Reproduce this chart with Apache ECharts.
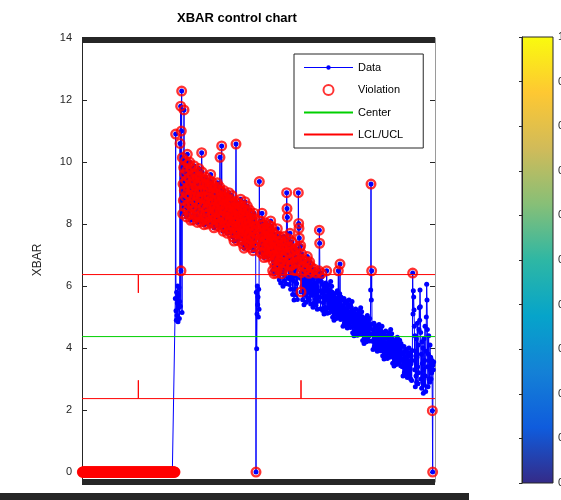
<!DOCTYPE html>
<html>
<head>
<meta charset="utf-8">
<script src="https://cdn.jsdelivr.net/npm/echarts@6/dist/echarts.min.js"></script>
<style>
  html, body { margin: 0; padding: 0; background: #ffffff; }
  #chart { width: 561px; height: 500px; }
</style>
</head>
<body>
<div id="chart"></div>
<script>
// Subgroup means (XBAR), in sample order.
// Start-up run: no measurements yet, recorded as zero.
const xbarStartup = [
  0,0,0,0,0,0,0,0,0,0,0,0,0,0,0,0,0,0,0,0,0,0,0,0,0,0,0,0,0,0,0,
  0,0,0,0,0,0,0,0,0,0,0,0,0,0,0,0,0,0,0,0,0,0,0,0,0,0,0,0,0,0,0,
  0,0,0,0,0,0,0,0,0,0,0,0,0,0,0,0,0,0,0,0,0,0,0,0,0,0,0,0,0,0,0,
  0,0,0,0,0,0,0,0,0,0,0,0,0,0,0,0,0,0,0,0,0,0,0,0,0,0,0,0,0,0,0,
  0,0,0,0,0,0,0,0,0,0,0,0,0,0,0,0,0,0,0,0,0,0,0,0,0,0,0,0,0,0,0,
  0,0,0,0,0,0,0,0,0,0,0,0,0,0,0,0,0,0,0,0,0,0,0,0,0,0,0,0,0,0,0,
  0,0,0,0,0,0,0,0,0,0,0,0,0,0,0,0,0,0,0,0,0,0,0,0,0,0,0,0,0,0,0,
  0,0,0,0,0,0,0,0,0,0,0,0,0,0,0,0,0,0,0,0,0,0,0,0,0,0,0,0,0,0,0,
  0,0,0,0,0,0,0,0,0,0,0,0,0,0,0,0,0,0,0,0,0,0,0,0,0,0,0,0,0,0,0
];
// Process comes on line
const xbarShift = [5.6, 10.9, 5.2, 4.9, 5.8, 5.05, 5.45, 6.0, 4.85, 5.7, 5.3, 5.95, 4.95, 5.5,
  10.6, 5.35, 11.8, 6.49, 11.0, 12.29, 5.15];
// Drift downwards from the high start
const xbarDriftEarly = [
  10.14, 8.33, 9.29, 8.76, 9.82, 11.68, 9.08, 9.61, 8.55, 10.04, 8.87, 9.4, 8.23, 9.72, 8.97, 10.25, 8.44, 9.18, 9.93, 8.65, 9.5, 8.3, 10.0, 8.9, 9.3, 8.12, 9.8, 9.1, 8.55, 9.6,
  8.69, 9.15, 8.14, 9.42, 8.78, 9.88, 8.32, 8.97, 9.61, 8.51, 9.24, 8.23, 9.7, 8.7, 9.06, 8.05, 9.51, 8.87, 8.42, 9.33, 9.79, 8.25, 9.05, 8.6, 9.5, 8.07, 8.85, 9.35, 10.3, 9.68,
  9.03, 8.14, 9.44, 8.55, 8.87, 7.98, 9.28, 8.71, 8.3, 9.11, 9.52, 8.16, 8.85, 8.47, 9.27, 8.0, 8.7, 9.1, 8.32, 9.42, 8.55, 8.95, 8.06, 9.2, 8.63, 9.6, 8.22, 8.79, 9.36, 8.39,
  9.26, 8.03, 8.68, 8.32, 9.04, 7.88, 8.53, 8.9, 8.17, 9.19, 8.39, 8.75, 7.95, 8.97, 8.46, 9.33, 8.1, 8.61, 9.11, 8.24, 8.82, 8.02, 9.2, 10.15, 8.67, 7.9, 9.05, 8.52, 10.52, 8.88,
  8.18, 8.53, 7.77, 8.74, 8.25, 9.08, 7.91, 8.39, 8.87, 8.05, 8.6, 7.84, 8.94, 8.2, 8.46, 7.7, 8.8, 8.32, 7.98, 8.67, 9.01, 7.85, 8.45, 8.11, 8.78, 7.72, 8.3, 8.65, 7.97, 8.92,
  8.33, 7.59, 8.67, 7.92, 8.19, 7.45, 8.53, 8.06, 7.72, 8.4, 8.73, 10.58, 8.2, 7.86, 8.52, 7.47, 8.05, 8.38, 7.7, 8.66, 7.93, 8.26, 7.52, 8.46, 7.99, 8.8, 7.65, 8.13, 8.6, 7.79,
  8.51, 7.36, 7.97, 7.63, 8.31, 7.22, 7.83, 8.17, 8.72, 8.44, 7.7, 8.04, 7.29, 8.24, 7.76, 8.58, 7.42, 7.9, 8.38, 7.56, 8.1, 7.35, 8.45, 7.69, 7.96, 7.24, 8.3, 7.82, 7.49, 8.16
];
const xbarDriftMid = [
  7.52, 7.84, 7.14, 8.03, 7.59, 8.35, 7.27, 7.72, 8.16, 7.4, 7.91, 0, 5.8, 3.98, 5.1, 6.0, 5.4, 5.65, 5.0, 5.9, 5.25, 9.37, 7.78, 7.46, 8.1, 7.08, 7.65, 7.97, 7.33, 8.35,
  7.69, 7.04, 7.98, 7.33, 7.57, 6.92, 7.86, 7.45, 7.16, 7.75, 8.04, 7.05, 7.56, 7.27, 7.85, 6.94, 7.44, 7.74, 7.15, 7.97, 7.34, 7.63, 6.98, 7.81, 7.39, 8.1, 7.1, 7.51, 7.92, 7.22,
  7.73, 6.5, 7.15, 6.79, 7.51, 6.4, 7.0, 7.37, 6.64, 7.66, 6.86, 7.22, 6.42, 7.44, 6.93, 7.85, 6.57, 7.08, 7.58, 6.71, 7.29, 6.2, 7.6, 6.8, 7.1, 6.1, 7.45, 6.95, 6.4, 7.3,
  6.5, 6.92, 5.99, 7.18, 6.58, 7.6, 6.16, 6.75, 7.35, 6.33, 7.01, 6.07, 7.43, 9.01, 8.5, 8.22, 7.26, 6.67, 6.24, 7.09, 7.52, 6.05, 6.84, 7.7, 7.25, 5.9, 6.66, 7.1, 6.22, 7.42,
  6.69, 5.73, 7.13, 6.16, 6.51, 5.55, 6.95, 6.34, 5.9, 6.78, 7.21, 5.72, 6.5, 6.08, 6.94, 5.57, 6.33, 6.77, 9.01, 8.02, 7.86, 7.55, 7.22, 6.86, 6.25, 7.3, 5.81, 6.43, 7.04, 5.99,
  6.87, 5.56, 6.25, 5.87, 6.64, 5.4, 6.1, 6.49, 5.71, 6.8, 5.94, 6.33, 5.48, 6.56, 6.02, 6.95, 5.63, 6.18, 6.72, 5.79, 6.41, 5.55, 6.78, 5.95, 6.24, 5.42, 6.62, 6.09, 5.7, 6.47
];
const xbarDriftLate = [
  5.71, 6.03, 5.32, 6.23, 5.77, 6.55, 5.45, 5.9, 6.36, 5.58, 6.1, 5.38, 6.42, 5.72, 5.97, 5.25, 6.29, 5.84, 5.51, 6.16, 6.49, 7.8, 7.38, 5.64, 6.28, 5.27, 5.85, 6.15, 6.41, 6.3,
  5.78, 5.21, 6.05, 5.47, 5.68, 5.1, 5.94, 5.57, 5.31, 5.84, 6.1, 5.2, 5.67, 6.49, 5.93, 5.12, 5.56, 5.83, 5.3, 6.04, 5.46, 5.73, 5.15, 5.89, 5.52, 6.15, 5.26, 5.62, 5.99, 5.36,
  5.8, 4.99, 5.42, 5.19, 5.66, 4.9, 5.33, 5.57, 5.09, 5.76, 5.23, 5.47, 4.95, 5.61, 5.28, 5.85, 5.04, 5.38, 6.49, 5.14, 5.52, 4.98, 5.75, 6.71, 5.41, 4.92, 5.65, 5.32, 5.08, 5.56,
  4.98, 5.22, 4.7, 5.36, 5.03, 5.6, 4.79, 5.13, 5.46, 4.89, 5.27, 4.75, 5.51, 4.99, 5.17, 4.65, 5.41, 5.08, 4.84, 5.32, 5.55, 4.74, 5.16, 4.94, 5.4, 4.66, 5.07, 5.31, 4.83, 5.5,
  4.99, 4.49, 5.21, 4.72, 4.9, 4.4, 5.12, 4.81, 4.58, 5.03, 5.26, 4.48, 4.89, 4.67, 5.11, 4.41, 4.8, 5.02, 4.57, 5.2, 4.71, 4.94, 4.45, 5.08, 4.76, 5.3, 4.54, 4.85, 5.17, 4.63,
  5.01, 4.24, 4.65, 4.42, 4.87, 4.15, 4.56, 4.78, 4.33, 4.96, 4.47, 4.69, 4.2, 4.83, 4.51, 5.05, 4.29, 4.6, 4.92, 4.38, 4.74, 4.23, 4.95, 4.46, 4.64, 5.87, 9.29, 5.55, 6.49, 4.77
];
const xbarDriftEnd = [
  4.22, 4.44, 3.95, 4.58, 4.26, 4.8, 4.04, 4.35, 4.67, 4.13, 4.49, 3.99, 4.71, 4.21, 4.4, 3.9, 4.62, 4.31, 4.08, 4.53, 4.76, 3.98, 4.39, 4.17, 4.61, 3.91, 4.3, 4.52, 4.07, 4.7,
  4.27, 3.75, 4.5, 3.98, 4.17, 3.65, 4.41, 4.08, 3.84, 4.32, 4.55, 3.74, 4.16, 3.94, 4.4, 3.66, 4.07, 4.31, 3.83, 4.49, 3.97, 4.22, 3.7, 4.36, 4.03, 4.6, 3.79, 4.12, 4.46, 3.89,
  4.3, 3.51, 3.93, 3.7, 4.16, 3.42, 3.84, 4.07, 3.61, 4.26, 3.75, 3.98, 3.47, 4.12, 3.79, 4.35, 3.56, 3.89, 4.21, 3.65, 4.02, 3.5, 4.25, 3.74, 3.92, 3.43, 4.15, 3.83, 3.6, 4.06,
  3.4, 3.65, 3.1, 3.8, 3.45, 4.05, 3.2, 3.55, 3.9, 3.3, 3.7, 3.15, 3.95, 3.39, 3.6, 3.05, 3.85, 3.5, 3.25, 3.75, 4.0, 3.14, 3.59, 3.34, 3.84, 3.0, 3.49, 3.74, 2.95, 3.92,
  3.6, 6.42, 5.1, 5.85, 5.65, 5.23, 4.7, 3.3, 4.4, 2.75, 3.9, 3.1, 4.3, 2.9, 3.7, 4.8, 3.4, 2.85, 4.1, 3.2, 4.6, 5.3, 4.9, 5.87, 5.33, 4.5, 3.0, 3.8, 2.7, 4.2,
  3.5, 2.9, 4.0, 2.54, 3.3, 4.3, 2.8, 3.6, 4.7, 3.1, 2.6, 3.9, 5.0, 6.06, 5.55, 4.6, 3.4, 2.75, 3.8, 4.4, 3.0, 3.6, 2.9, 4.1, 3.3, 3.7, 3.0, 3.5, 3.2, 3.6,
  1.98, 0, 3.45, 3.3, 3.55
];

// Control limits
const centerLine = 4.37;
const upperLimit = 6.37;
const lowerLimit = 2.37;
// Samples with a larger subgroup get tighter limits
const tightSamples = [169, 657];
const tightUpper = 5.78;
const tightLower = 2.96;

// Axis ticks
const xbarTicks = [0, 2, 4, 6, 8, 10, 12, 14];
const sampleAxisMax = 1059;

// Colour bar (parula)
const colorbarLevels = [0, 0.125, 0.25, 0.375, 0.5, 0.625, 0.75, 0.875, 1];
const colorbarColors = ['#352a87', '#0f5cdd', '#1481d6', '#06a4ca', '#2eb7a4', '#87bf77', '#d1bb59', '#fec832', '#f9fb0e'];

const FONT = 'Liberation Sans, Arial, Helvetica, sans-serif';
const AXIS_COLOR = '#262626';

const xbar = [].concat(xbarStartup, xbarShift, xbarDriftEarly, xbarDriftMid, xbarDriftLate, xbarDriftEnd);
const points = xbar.map((v, i) => [i + 1, v]);

function limitsFor(sample) {
  return tightSamples.indexOf(sample) >= 0 ? [tightLower, tightUpper] : [lowerLimit, upperLimit];
}
const violations = points.filter(([n, v]) => {
  const [lo, hi] = limitsFor(n);
  return v > hi || v < lo;
});

// Staircase limit line: one-sample dips where the limits tighten
function limitPath(base, tight) {
  const path = [[0, base]];
  tightSamples.forEach(n => { path.push([n, base], [n, tight], [n, base]); });
  path.push([sampleAxisMax, base]);
  return path;
}

const chart = echarts.init(document.getElementById('chart'), null, { renderer: 'canvas' });

const hiddenAxisParts = {
  axisTick: { show: false },
  axisLabel: { show: false },
  splitLine: { show: false }
};

chart.setOption({
  animation: false,
  backgroundColor: '#ffffff',
  textStyle: { fontFamily: FONT },
  title: {
    text: 'XBAR control chart',
    left: 232,
    top: 7,
    textAlign: 'center',
    textStyle: { fontFamily: FONT, fontSize: 13, fontWeight: 'bold', color: '#000000' }
  },
  legend: {
    orient: 'vertical',
    left: 294,
    top: 54,
    padding: [8, 20, 8, 9],
    itemWidth: 49,
    itemHeight: 10,
    itemGap: 11,
    selectedMode: false,
    backgroundColor: '#ffffff',
    borderColor: AXIS_COLOR,
    borderWidth: 1,
    textStyle: { fontFamily: FONT, fontSize: 11, color: '#000000' },
    data: [
      { name: 'Data', icon: 'path://M0,4.4L49,4.4L49,5.6L0,5.6Z M22.3,5A2.2,2.2,0,1,1,26.7,5A2.2,2.2,0,1,1,22.3,5Z' },
      'Violation',
      { name: 'Center', itemStyle: { opacity: 0 } },
      { name: 'LCL/UCL', itemStyle: { opacity: 0 } }
    ]
  },
  grid: [
    { left: 82, top: 38, width: 353, height: 444, containLabel: false, outerBoundsMode: 'none' },
    {
      left: 522, top: 37, width: 31, height: 446, containLabel: false, outerBoundsMode: 'none', show: true,
      backgroundColor: new echarts.graphic.LinearGradient(0, 1, 0, 0,
        colorbarLevels.map((o, i) => ({ offset: o, color: colorbarColors[i] }))),
      borderColor: AXIS_COLOR, borderWidth: 1
    }
  ],
  xAxis: [
    Object.assign({
      gridIndex: 0, type: 'value', min: 0, max: sampleAxisMax,
      axisLine: { show: true, onZero: false, lineStyle: { color: AXIS_COLOR, width: 6, cap: 'butt' } }
    }, hiddenAxisParts),
    Object.assign({
      gridIndex: 0, type: 'value', position: 'top', offset: -2, min: 0, max: sampleAxisMax,
      axisLine: { show: true, onZero: false, lineStyle: { color: AXIS_COLOR, width: 6, cap: 'butt' } }
    }, hiddenAxisParts),
    { gridIndex: 1, type: 'value', min: 0, max: 1, show: false }
  ],
  yAxis: [
    {
      gridIndex: 0, type: 'value', min: -0.32, max: 14,
      name: 'XBAR', nameLocation: 'middle', nameGap: 38, nameRotate: 90,
      nameTextStyle: { fontFamily: FONT, fontSize: 12, color: AXIS_COLOR },
      axisLine: { show: true, onZero: false, lineStyle: { color: AXIS_COLOR, width: 1 } },
      axisTick: { show: true, inside: true, length: 5, customValues: xbarTicks, lineStyle: { color: AXIS_COLOR } },
      axisLabel: { show: true, customValues: xbarTicks, margin: 10, fontSize: 11, color: AXIS_COLOR, fontFamily: FONT },
      splitLine: { show: false }
    },
    {
      gridIndex: 0, type: 'value', position: 'right', min: -0.32, max: 14,
      axisLine: { show: true, onZero: false, lineStyle: { color: '#9a9a9a', width: 1 } },
      axisTick: { show: true, inside: true, length: 5, customValues: xbarTicks, lineStyle: { color: AXIS_COLOR } },
      axisLabel: { show: false },
      splitLine: { show: false }
    },
    {
      gridIndex: 1, type: 'value', position: 'right', min: 0, max: 1, interval: 0.1,
      axisLine: { show: true, lineStyle: { color: AXIS_COLOR, width: 1 } },
      axisTick: { show: true, inside: true, length: 3, lineStyle: { color: AXIS_COLOR } },
      axisLabel: { show: true, margin: 5, fontSize: 11, color: AXIS_COLOR, fontFamily: FONT },
      splitLine: { show: false }
    }
  ],
  graphic: [
    { type: 'rect', left: 0, top: 493, shape: { width: 469, height: 7 }, style: { fill: AXIS_COLOR }, silent: true }
  ],
  series: [
    {
      name: 'Data', type: 'line', xAxisIndex: 0, yAxisIndex: 0,
      data: points, symbol: 'circle', symbolSize: 5, showSymbol: true, showAllSymbol: true,
      clip: false, silent: true, z: 2,
      itemStyle: { color: '#0000ff' },
      lineStyle: { color: '#0000ff', width: 1 },
      emphasis: { disabled: true }
    },
    {
      name: 'Center', type: 'line', xAxisIndex: 0, yAxisIndex: 0,
      data: [[0, centerLine], [sampleAxisMax, centerLine]], symbol: 'none', silent: true, z: 3,
      itemStyle: { color: '#00d000' }, lineStyle: { color: '#00d000', width: 1 }
    },
    {
      name: 'LCL/UCL', type: 'line', xAxisIndex: 0, yAxisIndex: 0,
      data: limitPath(upperLimit, tightUpper), symbol: 'none', silent: true, z: 3,
      itemStyle: { color: '#ff0000' }, lineStyle: { color: '#ff0000', width: 1 }
    },
    {
      name: 'LCL/UCL', type: 'line', xAxisIndex: 0, yAxisIndex: 0,
      data: limitPath(lowerLimit, tightLower), symbol: 'none', silent: true, z: 3,
      itemStyle: { color: '#ff0000' }, lineStyle: { color: '#ff0000', width: 1 }
    },
    {
      name: 'Violation', type: 'scatter', xAxisIndex: 0, yAxisIndex: 0,
      data: violations, symbol: 'circle', symbolSize: 8.6, clip: false, silent: true, z: 4,
      itemStyle: { color: 'rgba(255,255,255,0)', borderColor: '#ff0000', borderWidth: 2.4 }
    }
  ]
});
</script>
</body>
</html>
